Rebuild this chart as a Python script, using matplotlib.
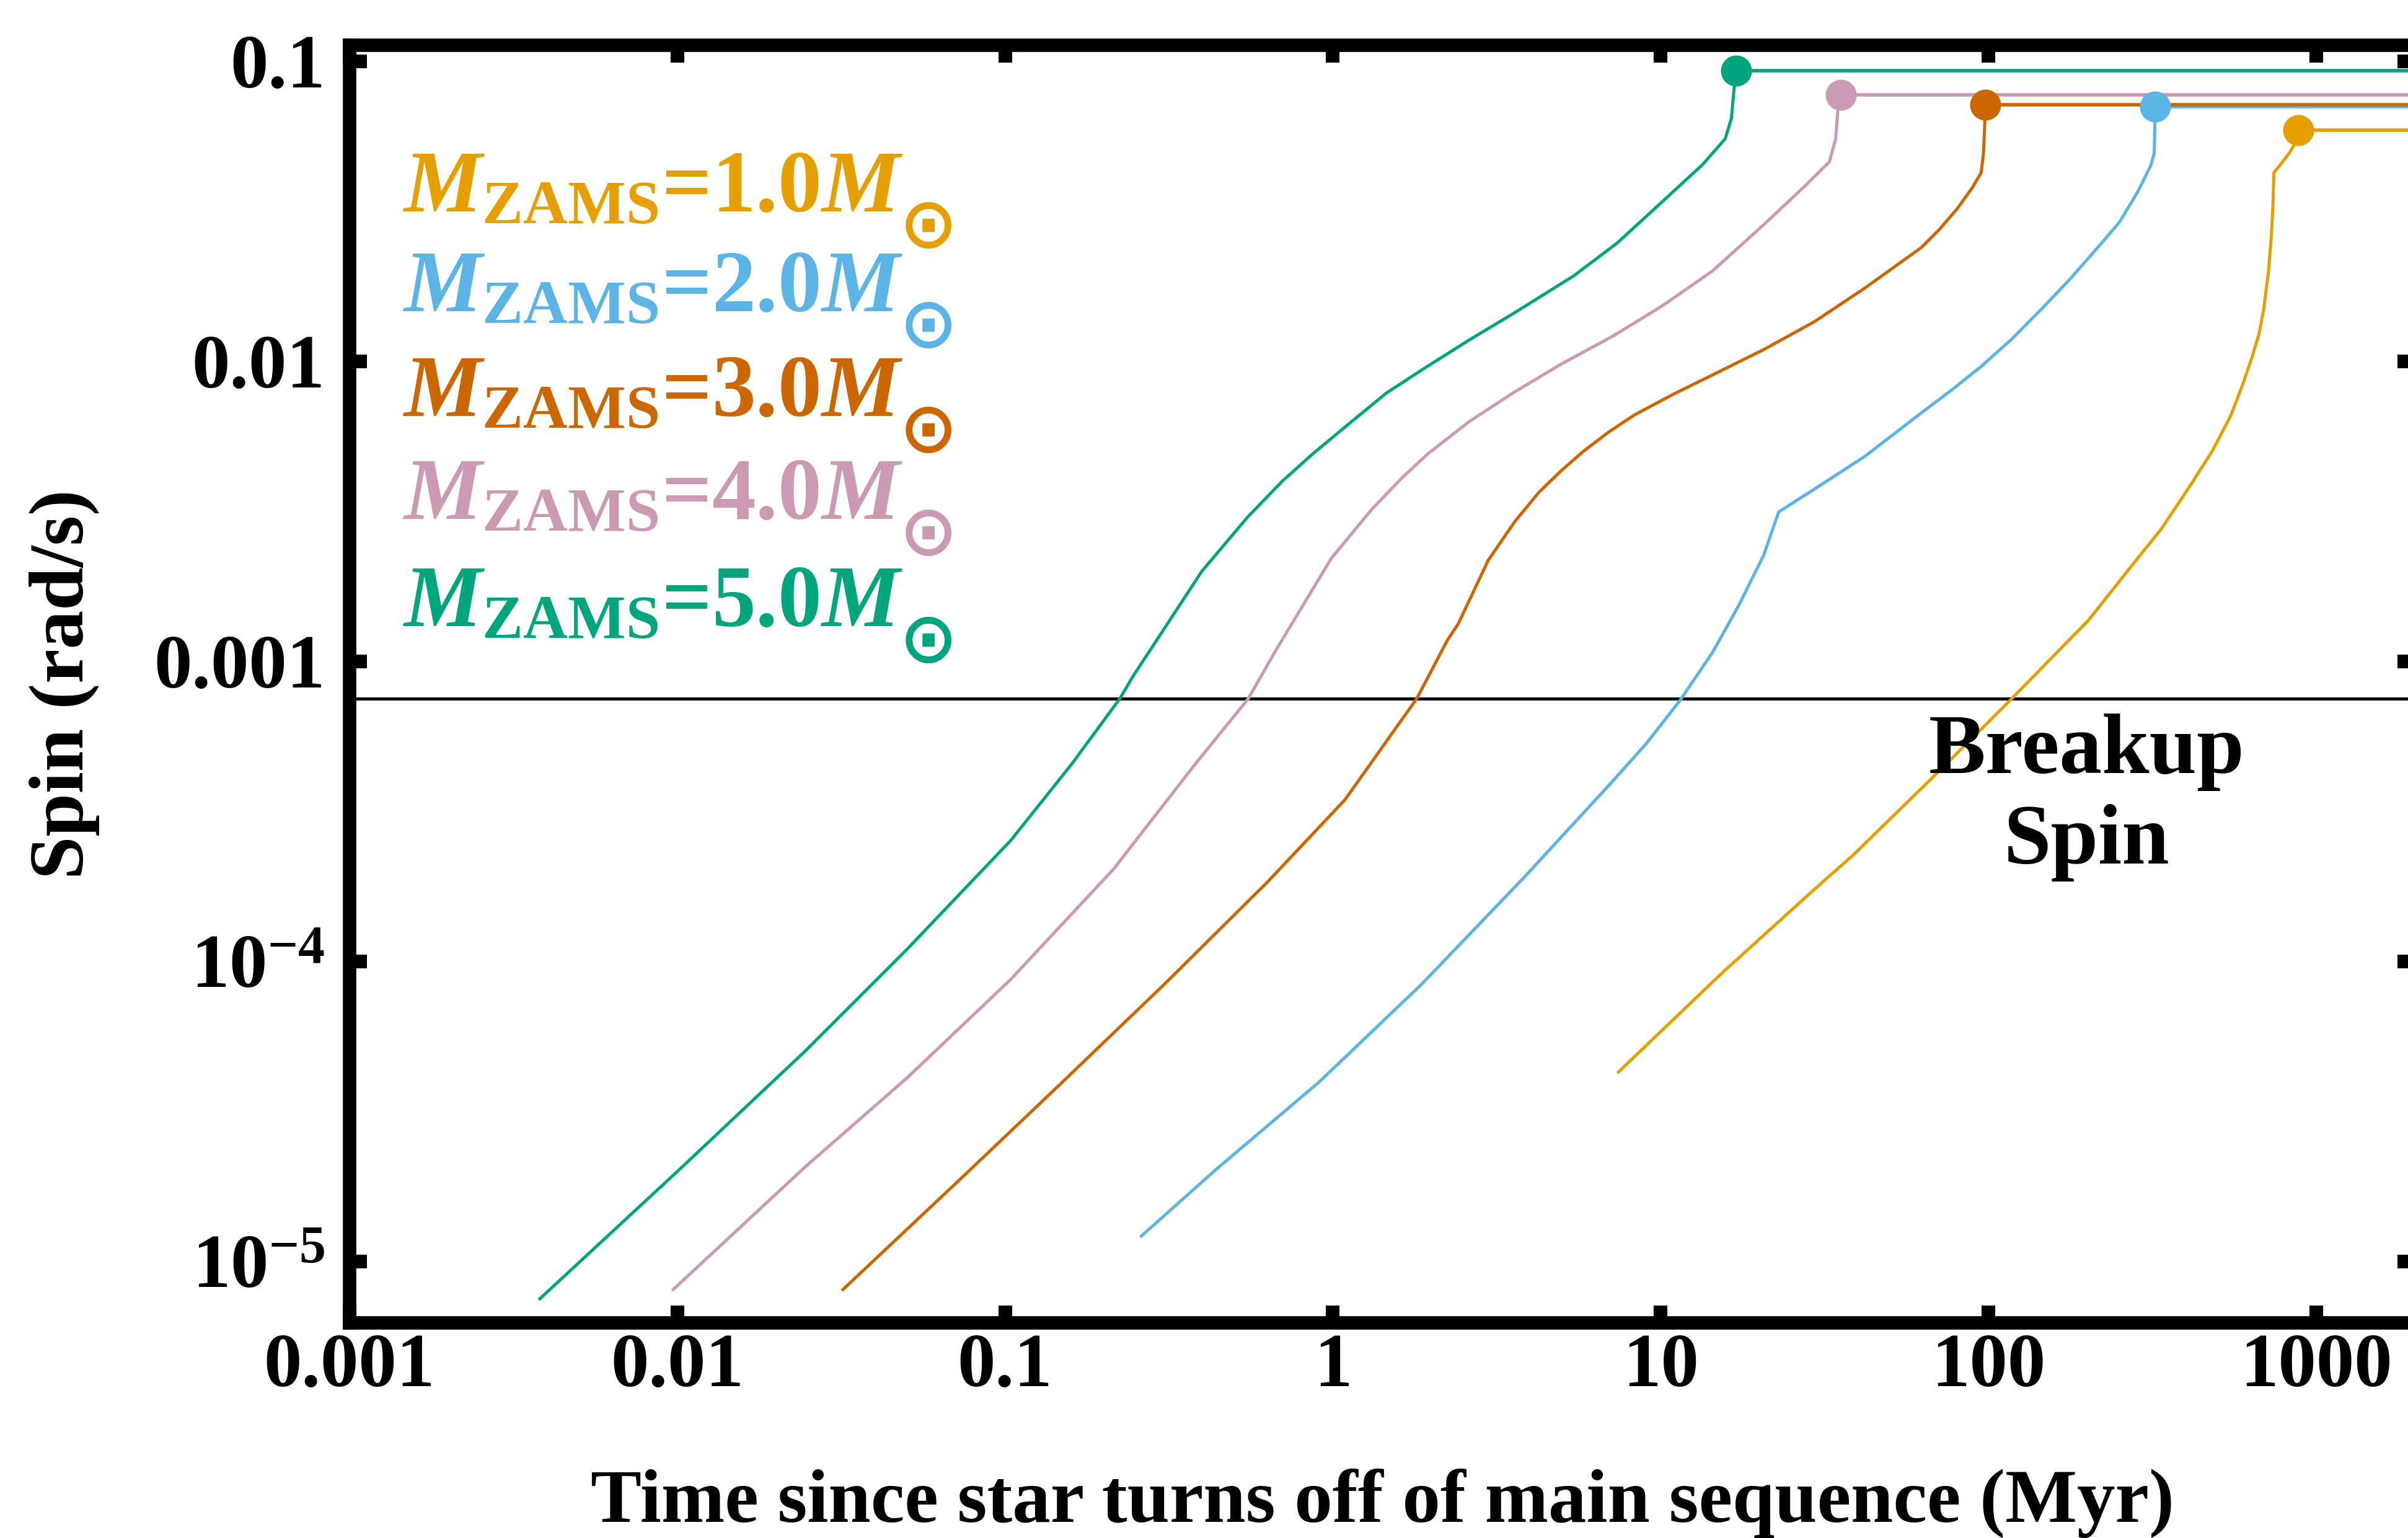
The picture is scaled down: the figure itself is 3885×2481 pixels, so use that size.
import matplotlib
matplotlib.use("Agg")
import matplotlib.pyplot as plt
from matplotlib.ticker import LogLocator, NullFormatter

plt.rcParams.update({
    'font.family': ['Liberation Serif', 'DejaVu Serif'],
    'font.weight': 'bold',
    'mathtext.fontset': 'custom',
    'mathtext.rm': 'Liberation Serif:bold',
    'mathtext.it': 'Liberation Serif:italic:bold',
    'mathtext.bf': 'Liberation Serif:bold',
    'axes.unicode_minus': True,
})

# ---------------- data ----------------
masses = [1.0, 2.0, 3.0, 4.0, 5.0]
colors = ['#E69F00', '#5CB4E6', '#CC6600', '#CC99B4', '#00A57E']

t_m1 = [7.379, 15.52, 29.44, 38.73, 71.29, 116.9, 202.3, 276.1, 337.3, 416.9,
        483.1, 548.3, 597.0, 636.8, 669.9, 691.8, 714.5, 729.5, 737.9, 743.0,
        769.1, 827.9, 865.0, 883.1]
s_m1 = [4.246e-5, 9.226e-5, 1.738e-4, 2.265e-4, 4.345e-4, 7.447e-4, 1.374e-3,
        2.109e-3, 2.767e-3, 3.917e-3, 5.047e-3, 6.577e-3, 8.375e-3, 0.01030,
        0.01239, 0.01493, 0.01968, 0.02594, 0.03266, 0.04256, 0.04457,
        0.04943, 0.05358, 0.05902]

t_m2 = [0.2582, 0.4395, 0.9057, 1.866, 3.855, 7.063, 9.057, 11.46, 14.42, 17.26,
        20.61, 22.91, 29.44, 42.07, 62.37, 76.91, 95.06, 117.5, 145.2, 179.1,
        221.3, 251.2, 285.1, 313.3, 320.6, 322.1, 322.8]
s_m2 = [1.205e-5, 2.023e-5, 3.954e-5, 8.395e-5, 1.919e-4, 3.936e-4, 5.333e-4,
        7.413e-4, 1.074e-3, 1.528e-3, 2.254e-3, 3.148e-3, 3.750e-3, 4.831e-3,
        6.730e-3, 7.998e-3, 9.616e-3, 0.01183, 0.01493, 0.01901, 0.02477,
        0.02911, 0.03664, 0.04508, 0.04943, 0.06223, 0.07079]

t_m3 = [0.03177, 0.07244, 0.1493, 0.3062, 0.6310, 1.089, 1.803, 2.234, 2.415,
        2.979, 3.597, 4.256, 4.955, 5.781, 6.934, 8.337, 10.91, 14.42, 20.61,
        29.44, 42.07, 62.37, 70.79, 80.35, 89.33, 95.06, 96.61, 97.50, 97.72]
s_m3 = [7.998e-6, 1.866e-5, 3.954e-5, 8.395e-5, 1.837e-4, 3.459e-4, 7.516e-4,
        1.175e-3, 1.337e-3, 2.173e-3, 2.931e-3, 3.664e-3, 4.305e-3, 4.989e-3,
        5.808e-3, 6.637e-3, 7.762e-3, 9.016e-3, 0.01094, 0.01355, 0.01758,
        0.02393, 0.02748, 0.03228, 0.03793, 0.04256, 0.04943, 0.06223, 0.07161]

t_m4 = [0.009638, 0.02449, 0.05047, 0.1040, 0.2143, 0.3811, 0.5521, 0.6683,
        0.9886, 1.312, 1.626, 1.950, 2.612, 3.548, 4.955, 7.145, 10.09, 14.42,
        20.61, 27.35, 32.73, 34.20, 34.75, 35.40]
s_m4 = [7.998e-6, 2.061e-5, 4.111e-5, 8.710e-5, 2.032e-4, 4.560e-4, 7.516e-4,
        1.084e-3, 2.203e-3, 3.206e-3, 4.093e-3, 4.920e-3, 6.310e-3, 7.852e-3,
        9.772e-3, 0.01213, 0.01528, 0.02004, 0.02851, 0.03811, 0.04624,
        0.05521, 0.06966, 0.07727]

t_m5 = [0.003776, 0.01, 0.02449, 0.05047, 0.1040, 0.1600, 0.2239, 0.2455,
        0.3981, 0.5495, 0.7015, 0.8690, 1.143, 1.459, 1.928, 2.612, 3.548,
        5.433, 7.379, 10.09, 13.46, 15.74, 16.44, 16.71, 17.02]
s_m5 = [7.447e-6, 1.995e-5, 5.012e-5, 1.104e-4, 2.529e-4, 4.560e-4, 7.516e-4,
        8.913e-4, 1.995e-3, 3.027e-3, 3.990e-3, 4.920e-3, 6.310e-3, 7.852e-3,
        9.572e-3, 0.01180, 0.01442, 0.01928, 0.02483, 0.03396, 0.04539,
        0.05521, 0.06457, 0.07852, 0.09311]

times = [t_m1, t_m2, t_m3, t_m4, t_m5]
spins = [s_m1, s_m2, s_m3, s_m4, s_m5]

plateau_end_time = 1.0e4      # spin stays at its final value afterwards
breakup_spin = 7.5e-4

x_ticks = [1e-3, 1e-2, 1e-1, 1, 10, 100, 1000]
x_tick_labels = ['0.001', '0.01', '0.1', '1', '10', '100', '1000']
y_ticks = [1e-5, 1e-4, 1e-3, 1e-2, 1e-1]
y_tick_labels = [r'$10^{-5}$', r'$10^{-4}$', '0.001', '0.01', '0.1']
x_limits = (1e-3, 2000)
y_limits = (6.24e-6, 0.1134)

# ---------------- figure ----------------
fig = plt.figure(figsize=(12.95, 8.27), dpi=300)
ax = fig.add_axes([564 / 3885, 1 - 2134 / 2481, (3896 - 564) / 3885, (2134 - 72.5) / 2481])
ax.set_xscale('log')
ax.set_yscale('log')

for i in range(len(masses)):
    t, s, c = times[i], spins[i], colors[i]
    ax.plot(t, s, color=c, lw=1.2, zorder=2 + i * 0.1,
            solid_joinstyle='round', solid_capstyle='butt')
    ax.plot([t[-1], plateau_end_time], [s[-1], s[-1]], color=c, lw=1.35, zorder=2 + i * 0.1)
    ax.plot([t[-1]], [s[-1]], 'o', color=c, ms=12, mec='none', zorder=4 + i * 0.1)

ax.axhline(breakup_spin, color='black', lw=1.2, zorder=1.5)

ax.set_xlim(*x_limits)
ax.set_ylim(*y_limits)
ax.set_xticks(x_ticks, x_tick_labels)
ax.set_yticks(y_ticks, y_tick_labels)
ax.xaxis.set_minor_locator(LogLocator(base=10, subs=range(2, 10), numticks=30))
ax.yaxis.set_minor_locator(LogLocator(base=10, subs=range(2, 10), numticks=30))
ax.xaxis.set_minor_formatter(NullFormatter())
ax.yaxis.set_minor_formatter(NullFormatter())

ax.tick_params(which='major', direction='in', length=6.7, width=5.3,
               top=True, right=True, labelsize=29.5)
ax.tick_params(axis='x', which='major', pad=4)
ax.tick_params(axis='y', which='major', pad=9.5)
ax.tick_params(which='minor', direction='in', length=1.0, width=0.8, top=True, right=True)
for sp in ax.spines.values():
    sp.set_linewidth(5.2)

ax.set_xlabel('Time since star turns off of main sequence (Myr)', fontsize=29.5,
              fontweight='bold', va='baseline')
ax.xaxis.set_label_coords(0.5, -0.1557)
ax.set_ylabel('Spin (rad/s)', fontsize=30, fontweight='bold', va='baseline',
              ha='center', rotation=90, rotation_mode='anchor')
ax.yaxis.set_label_coords((134 - 564) / 3332, 0.5)

legend_y = [0.8693, 0.7912, 0.7092, 0.6287, 0.5448]
for m, c, yy in zip(masses, colors, legend_y):
    lab = ax.text(0.0258, yy, r'$M_{\mathrm{ZAMS}}$=%.1f$M$' % m, color=c,
                  fontsize=34, fontweight='bold', transform=ax.transAxes,
                  ha='left', va='baseline')
    ax.annotate('\u2299', xy=(1.0, yy), xycoords=(lab, ax.transAxes),
                xytext=(-1.5, -13.6), textcoords='offset points',
                color=c, fontsize=27, fontweight='bold', family=['DejaVu Sans'],
                ha='left', va='baseline')

ax.text(0.8412, 0.4303, 'Breakup', fontsize=33, fontweight='bold',
        transform=ax.transAxes, ha='center', va='baseline')
ax.text(0.8412, 0.3594, 'Spin', fontsize=33, fontweight='bold',
        transform=ax.transAxes, ha='center', va='baseline')

fig.savefig('out.png', dpi=300)
